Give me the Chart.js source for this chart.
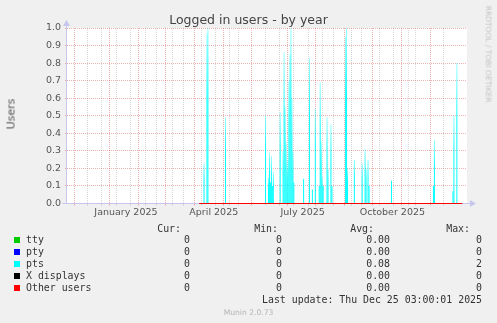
<!DOCTYPE html>
<html>
<head>
<meta charset="utf-8">
<title>Logged in users - by year</title>
<script src="https://cdn.jsdelivr.net/npm/chart.js@4.4.1/dist/chart.umd.min.js"></script>
<style>
  html, body { margin: 0; padding: 0; background: #f0f0f0; }
  #wrap { position: relative; width: 497px; height: 323px; overflow: hidden; font-family: "DejaVu Sans", sans-serif; }
  #chart { position: absolute; left: 0; top: 0; }
  .t { position: absolute; white-space: pre; line-height: 1; }
  .mono { font-family: "DejaVu Sans Mono", monospace; font-size: 9.9px; color: #333; }
  .sq { position: absolute; width: 6px; height: 6px; }
</style>
</head>
<body>
<div id="wrap">
  <canvas id="chart" width="497" height="323"></canvas>
  <div class="t" style="left:0;width:497px;text-align:center;top:19.5px;transform:translateY(-50%);font-size:12.5px;color:#444;">Logged in users - by year</div>
  <div class="t" style="left:11px;top:114px;transform:translate(-50%,-50%) rotate(-90deg);font-size:11px;color:#555;">Users</div>
  <div class="t" style="left:487.5px;top:53.5px;transform:translate(-50%,-50%) rotate(90deg);font-size:7.5px;color:#c4c4c4;">RRDTOOL / TOBI OETIKER</div>
  <div id="legend"></div>
  <div class="t" style="left:0;width:497px;text-align:center;top:313px;transform:translateY(-50%);font-size:7.6px;color:#b4b4b4;">Munin 2.0.73</div>
</div>
<script>
// ---- data (x = days since 2024-11-22, one pixel per day) ----
const monthDays = [9, 40, 71, 99, 130, 160, 191, 221, 252, 283, 313, 344, 374];
const minorDays = [23, 37, 51, 65, 79, 93, 107, 121, 135, 149, 163, 177, 205, 219, 233, 247, 261, 275, 289, 303, 317, 331, 345, 359, 387];
const labelDays = [55, 145, 236, 328];
const quarterLabels = ['January 2025', 'April 2025', 'July 2025', 'October 2025'];

// pts sessions, daily values
const ptsDays  = [135, 138, 139, 157, 198, 201, 202, 203, 204, 205, 206, 213,
                  216, 217, 218, 219, 220, 221, 222, 223, 224, 225, 226, 227,
                  237, 243, 246, 249, 253, 254, 255, 256, 257, 261, 262, 265, 266,
                  280, 281, 282, 289, 297, 300, 301, 303, 304, 327, 370, 371, 390, 391, 394];
const ptsUsers = [0.23, 0.97, 1.0, 0.49, 0.5, 0.15, 0.29, 0.12, 0.27, 0.1, 0.18, 0.52,
                  0.3, 0.86, 0.55, 0.35, 0.2, 0.25, 0.7, 0.85, 1.0, 0.6, 0.3, 0.12,
                  0.14, 0.83, 0.08, 0.54, 0.1, 0.69, 0.35, 0.15, 0.1, 0.49, 0.2, 0.45, 0.1,
                  0.95, 1.0, 0.2, 0.25, 0.23, 0.31, 0.2, 0.25, 0.1, 0.13, 0.1, 0.36, 0.07, 0.5, 0.8];

// other users: known (zero) from April 2025 onwards
const otherDays  = [130, 399.5];
const otherUsers = [0, 0];

// legend table
const seriesNames = ['tty', 'pty', 'pts', 'X displays', 'Other users'];
const seriesColors = ['#00cc00', '#0000ff', '#00ffff', '#000000', '#ff0000'];
const curValues = ['0', '0', '0', '0', '0'];
const minValues = ['0', '0', '0', '0', '0'];
const avgValues = ['0.00', '0.00', '0.08', '0.00', '0.00'];
const maxValues = ['0', '0', '2', '0', '0'];
const lastUpdate = 'Last update: Thu Dec 25 03:00:01 2025';

const RED_GRID = 'rgba(220, 70, 70, 0.42)';
const GREY_GRID = 'rgba(150, 150, 150, 0.38)';
const AXIS = '#c6c6ee';
const CYAN = '#00ffff';

// ---- legend (html text) ----
function put(text, rightEdge, cy) {
  const d = document.createElement('div');
  d.className = 't mono';
  d.textContent = text;
  d.style.right = (497 - rightEdge) + 'px';
  d.style.top = cy + 'px';
  d.style.transform = 'translateY(-50%)';
  document.getElementById('legend').appendChild(d);
}
const rowY0 = 228.5, rowH = 11.85;
put('Cur:', 181, rowY0); put('Min:', 278, rowY0); put('Avg:', 374, rowY0); put('Max:', 470, rowY0);
seriesNames.forEach((name, i) => {
  const cy = rowY0 + rowH * (i + 1);
  const sq = document.createElement('div');
  sq.className = 'sq';
  sq.style.left = '14px';
  sq.style.top = (cy - 3) + 'px';
  sq.style.background = seriesColors[i];
  document.getElementById('legend').appendChild(sq);
  const n = document.createElement('div');
  n.className = 't mono';
  n.textContent = name;
  n.style.left = '26px';
  n.style.top = cy + 'px';
  n.style.transform = 'translateY(-50%)';
  document.getElementById('legend').appendChild(n);
  put(curValues[i], 190, cy);
  put(minValues[i], 282, cy);
  put(avgValues[i], 390, cy);
  put(maxValues[i], 482, cy);
});
put(lastUpdate, 482, rowY0 + rowH * 6);

// ---- chart ----
function ptsFill(c) {
  const chart = c.chart;
  if (!chart.chartArea || !c.parsed) return CYAN;
  const y = chart.scales.y;
  const v = c.parsed.y;
  if (v < 0.15) return CYAN;
  const y0 = y.getPixelForValue(0), y1 = y.getPixelForValue(v);
  const g = chart.ctx.createLinearGradient(0, y0, 0, y1);
  g.addColorStop(0, CYAN);
  g.addColorStop(0.6, CYAN);
  g.addColorStop(1, 'rgba(0, 255, 255, 0.4)');
  return g;
}

// white plot background and the rrdtool-style axis arrows
const rrdDecor = {
  id: 'rrdDecor',
  beforeDraw(chart) {
    const { ctx, chartArea: a } = chart;
    ctx.save();
    ctx.fillStyle = '#ffffff';
    ctx.fillRect(a.left, a.top, a.right - a.left, a.bottom - a.top);
    ctx.restore();
  },
  beforeDatasetsDraw(chart) {
    const { ctx, chartArea: a } = chart;
    const x0 = Math.round(a.left) - 0.5;
    const yb = chart.scales.y.getPixelForValue(0);
    ctx.save();
    ctx.strokeStyle = AXIS;
    ctx.lineWidth = 1;
    ctx.beginPath();
    ctx.moveTo(x0, yb); ctx.lineTo(x0, a.top - 4);
    ctx.moveTo(x0 - 4, yb); ctx.lineTo(a.right + 4, yb);
    ctx.stroke();
    ctx.fillStyle = AXIS;
    ctx.beginPath();
    ctx.moveTo(x0 - 3.5, a.top - 2); ctx.lineTo(x0 + 3.5, a.top - 2); ctx.lineTo(x0, a.top - 8);
    ctx.closePath(); ctx.fill();
    ctx.beginPath();
    ctx.moveTo(a.right + 3, yb - 3.5); ctx.lineTo(a.right + 3, yb + 3.5); ctx.lineTo(a.right + 9, yb);
    ctx.closePath(); ctx.fill();
    ctx.restore();
  }
};

const tickFont = { family: 'DejaVu Sans', size: 9.5 };
const xGridColor = (c) => !c.tick ? 'transparent'
  : c.tick.kind === 'month' ? RED_GRID
  : c.tick.kind === 'minor' ? GREY_GRID : 'transparent';

new Chart(document.getElementById('chart'), {
  type: 'bar',
  data: {
    datasets: [
      {
        type: 'bar',
        label: 'pts',
        data: ptsDays.map((d, i) => ({ x: d, y: ptsUsers[i] })),
        backgroundColor: ptsFill,
        borderWidth: 0,
        barThickness: 1,
        inflateAmount: 0,
        grouped: false,
        order: 2
      },
      {
        type: 'line',
        label: 'Other users',
        data: otherDays.map((d, i) => ({ x: d, y: otherUsers[i] })),
        borderColor: '#ff0000',
        borderWidth: 1,
        pointRadius: 0,
        fill: false,
        clip: false,
        order: 1
      }
    ]
  },
  options: {
    responsive: false,
    animation: false,
    layout: { padding: { left: 0, right: 30, top: 28, bottom: 0 } },
    plugins: { legend: { display: false }, tooltip: { enabled: false }, title: { display: false } },
    scales: {
      x: {
        type: 'linear',
        min: -0.5,
        max: 399.5,
        afterFit: (s) => { s.height = 119.5; },
        afterBuildTicks: (s) => {
          const t = [];
          monthDays.forEach(v => t.push({ value: v, kind: 'month' }));
          minorDays.forEach(v => t.push({ value: v, kind: 'minor' }));
          labelDays.forEach((v, i) => t.push({ value: v, kind: 'label', text: quarterLabels[i] }));
          t.sort((a, b) => a.value - b.value);
          s.ticks = t;
        },
        ticks: {
          autoSkip: false,
          maxRotation: 0,
          padding: 1.5,
          font: tickFont,
          color: '#555',
          callback: (v, i, ticks) => (ticks[i] && ticks[i].text) || ''
        },
        grid: { color: xGridColor, tickColor: xGridColor, tickLength: 2, lineWidth: 1 },
        border: { display: false, dash: [1, 1] }
      },
      y: {
        min: 0,
        max: 1,
        afterFit: (s) => { s.width = 67; },
        ticks: {
          stepSize: 0.1,
          padding: 4,
          font: tickFont,
          color: '#555',
          callback: (v) => v.toFixed(1)
        },
        grid: { color: RED_GRID, tickColor: RED_GRID, tickLength: 2, lineWidth: 1 },
        border: { display: false, dash: [1, 1] }
      }
    }
  },
  plugins: [rrdDecor]
});
</script>
</body>
</html>
